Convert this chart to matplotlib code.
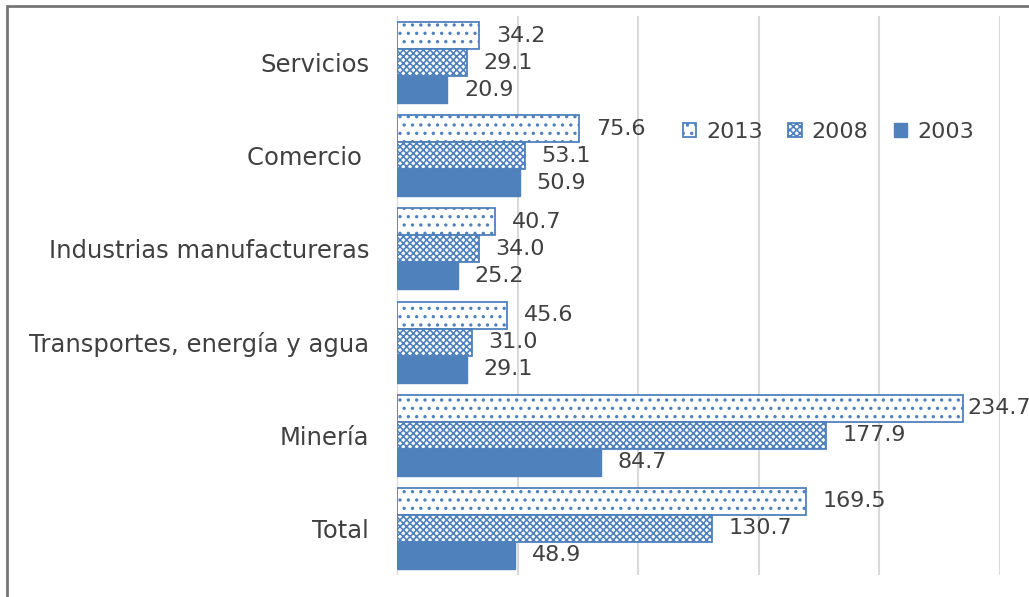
import numpy as np
import matplotlib.pyplot as plt
from matplotlib.patches import Rectangle

# datos (de arriba hacia abajo)
categorias = ['Servicios', 'Comercio ', 'Industrias manufactureras',
              'Transportes, energía y agua', 'Minería', 'Total']
v2013 = [34.2, 75.6, 40.7, 45.6, 234.7, 169.5]
v2008 = [29.1, 53.1, 34.0, 31.0, 177.9, 130.7]
v2003 = [20.9, 50.9, 25.2, 29.1, 84.7, 48.9]

azul = '#4F81BD'
gris_txt = '#404040'
plt.rcParams['hatch.color'] = azul
plt.rcParams['hatch.linewidth'] = 1.2

fig = plt.figure(figsize=(10.29, 5.97), dpi=100)
ax = fig.add_axes([0.3858, 0.0369, 0.9718 - 0.3858, 0.9732 - 0.0369])

y = np.arange(len(categorias))
h = 0.29

b13 = ax.barh(y - h, v2013, height=h, color='white', edgecolor=azul,
              linewidth=1.3, hatch='..', label='2013', zorder=3)
b08 = ax.barh(y, v2008, height=h, color='white', edgecolor=azul,
              linewidth=1.3, hatch='xxxxx', label='2008', zorder=3)
b03 = ax.barh(y + h, v2003, height=h, color=azul, edgecolor=azul,
              linewidth=1.0, label='2003', zorder=3)

for barras in (b13, b08, b03):
    etiquetas = ax.bar_label(barras, labels=[f'{v:.1f}' for v in barras.datavalues],
                             padding=12, fontsize=16, color=gris_txt, clip_on=False)
    # la etiqueta que no cabe se acerca a la barra, como en Excel
    for v, t in zip(barras.datavalues, etiquetas):
        if v > 225:
            t.xyann = (3, 0)

ax.set_xlim(0, 250)
ax.set_ylim(len(categorias) - 0.5, -0.5)
ax.set_xticks(np.arange(0, 251, 50))
ax.xaxis.grid(True, color='#d9d9d9', linewidth=1.5, zorder=0)
ax.set_axisbelow(True)
ax.tick_params(axis='x', length=0, labelbottom=False)
ax.tick_params(axis='y', length=0, pad=20)
ax.set_yticks(y)
ax.set_yticklabels(categorias, fontsize=17.5, color=gris_txt)
for s in ax.spines.values():
    s.set_visible(False)

ax.legend(loc='center left', bbox_to_anchor=(0.441, 0.792), ncol=3,
          frameon=False, fontsize=16, labelcolor=gris_txt,
          handlelength=0.6, handleheight=0.6, handletextpad=0.45,
          columnspacing=1.15)

# marco del gráfico
fig.patches.append(Rectangle((7 / 1029, -0.1), 1.2, 1 - 6 / 597 + 0.1,
                             transform=fig.transFigure, fill=False,
                             edgecolor='#767676', linewidth=2))

fig.savefig('out.png', dpi=100)
